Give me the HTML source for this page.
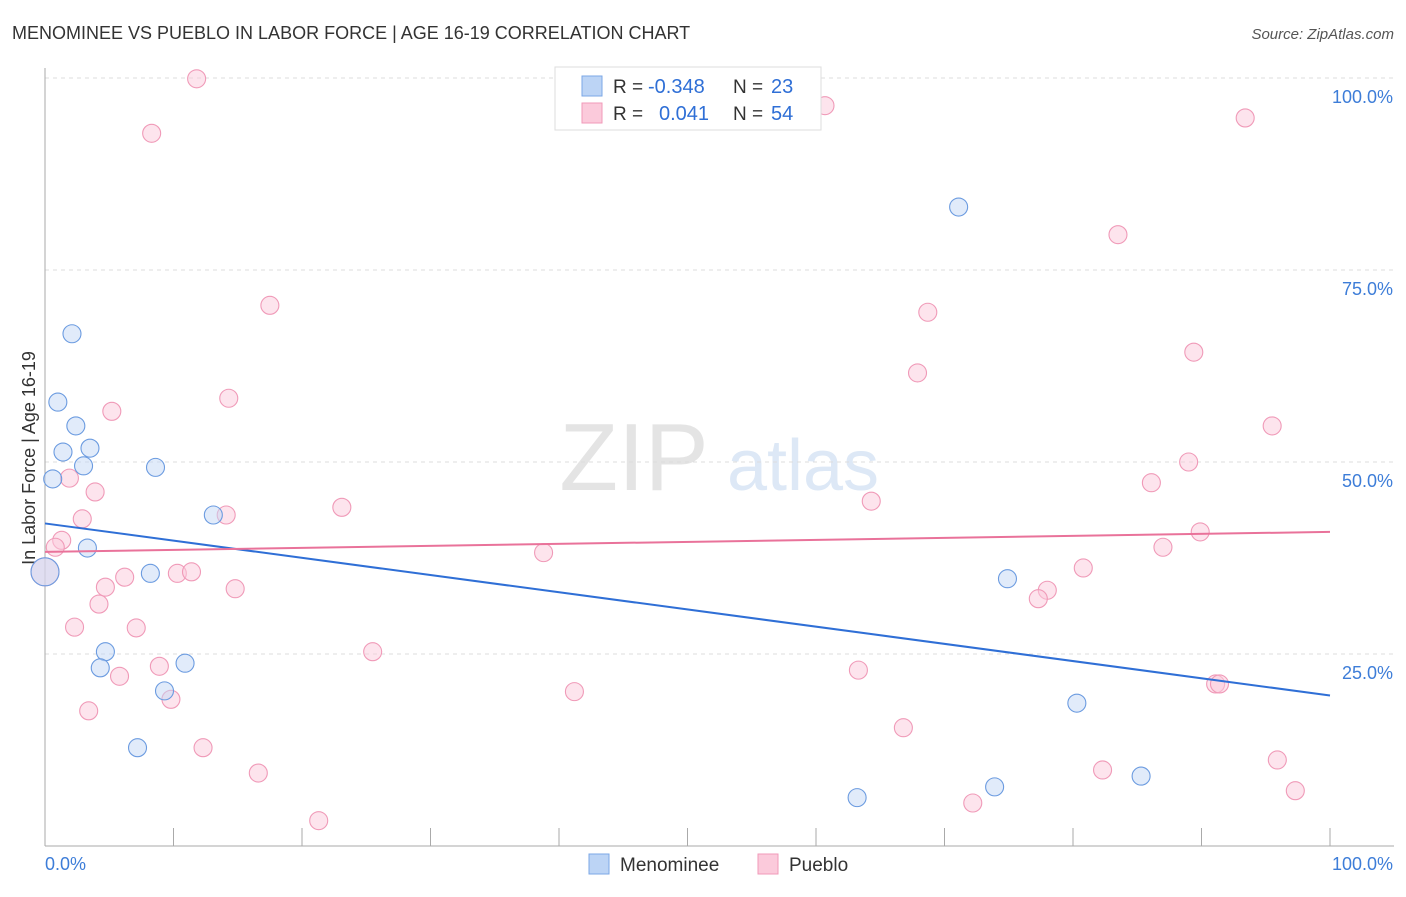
<!DOCTYPE html>
<html><head><meta charset="utf-8"><style>
body{margin:0;background:#fff;font-family:"Liberation Sans",sans-serif}
svg text{font-family:"Liberation Sans",sans-serif}
</style></head><body>
<svg id="c" width="1406" height="892">
<text x="12" y="39" font-size="18" fill="#333">MENOMINEE VS PUEBLO IN LABOR FORCE | AGE 16-19 CORRELATION CHART</text>
<text x="1394" y="39" font-size="15" fill="#555" font-style="italic" text-anchor="end">Source: ZipAtlas.com</text>
<text x="35" y="458" font-size="18" fill="#333" text-anchor="middle" transform="rotate(-90 35 458)">In Labor Force | Age 16-19</text>
<g><text x="634" y="490" font-size="96" fill="#e4e4e4" font-family="Liberation Serif" text-anchor="middle">ZIP</text><text x="803" y="490" font-size="72" fill="#dde8f6" text-anchor="middle">atlas</text></g>
<g id="grid"></g><g id="marks"></g>
<g>
<rect x="555" y="67" width="266" height="63" fill="#fff" stroke="#ddd"/>
<rect x="582" y="76" width="20" height="20" fill="#bcd4f5" stroke="#7ba7e6"/>
<rect x="582" y="103" width="20" height="20" fill="#fbcadb" stroke="#f09ab8"/>
<text x="613" y="93" font-size="19" fill="#333">R =</text>
<text x="648" y="93" font-size="20" fill="#2f6fd6">-0.348</text>
<text x="733" y="93" font-size="19" fill="#333">N =</text>
<text x="771" y="93" font-size="20" fill="#2f6fd6">23</text>
<text x="613" y="120" font-size="19" fill="#333">R =</text>
<text x="659" y="120" font-size="20" fill="#2f6fd6">0.041</text>
<text x="733" y="120" font-size="19" fill="#333">N =</text>
<text x="771" y="120" font-size="20" fill="#2f6fd6">54</text>
</g>
<g>
<rect x="589" y="854" width="20" height="20" fill="#bcd4f5" stroke="#7ba7e6"/>
<text x="620" y="871" font-size="19" fill="#333">Menominee</text>
<rect x="758" y="854" width="20" height="20" fill="#fbcadb" stroke="#f09ab8"/>
<text x="789" y="871" font-size="19" fill="#333">Pueblo</text>
</g>
</svg>
<script>
const blueX=[0,0.6,2.1,1.0,2.4,1.4,3.5,3.0,8.6,3.3,8.2,13.1,4.7,4.3,10.9,9.3,7.2,71.1,74.9,80.3,85.3,63.2,73.9];
const blueY=[35.7,47.8,66.7,57.8,54.7,51.3,51.8,49.5,49.3,38.8,35.5,43.1,25.3,23.2,23.8,20.2,12.8,83.2,34.8,18.6,9.1,6.3,7.7];
const pinkX=[11.8,8.3,60.7,93.4,83.5,17.5,68.7,67.9,89.4,14.3,5.2,95.5,1.9,89.0,3.9,86.1,64.3,23.1,2.9,14.1,1.3,0.8,89.9,87.0,38.8,6.2,10.3,11.4,4.7,14.8,80.8,78.0,77.3,4.2,2.3,7.1,25.5,8.9,63.3,5.8,9.8,41.2,91.1,91.4,3.4,66.8,12.3,95.9,82.3,16.6,72.2,97.3,21.3,0];
const pinkY=[99.9,92.8,96.4,94.8,79.6,70.4,69.5,61.6,64.3,58.3,56.6,54.7,47.9,50.0,46.1,47.3,44.9,44.1,42.6,43.1,39.8,38.9,40.9,38.9,38.2,35.0,35.5,35.7,33.7,33.5,36.2,33.3,32.2,31.5,28.5,28.4,25.3,23.4,22.9,22.1,19.1,20.1,21.1,21.1,17.6,15.4,12.8,11.2,9.9,9.5,5.6,7.2,3.3,35.7];
const blueLine=[42,19.6];const pinkLine=[38.3,40.9];
const yTicks=[25,50,75,100];const xTickCount=10;
const NS='http://www.w3.org/2000/svg';
const sx=v=>45+v*12.85, sy=v=>846-v*7.68;
function mk(t,a,p){const e=document.createElementNS(NS,t);for(const k in a)e.setAttribute(k,a[k]);p.appendChild(e);return e;}
const g=document.getElementById('grid'),m=document.getElementById('marks');
yTicks.forEach(t=>{
 const l=mk('line',{x1:45,x2:1394,y1:sy(t),y2:sy(t),stroke:'#ddd','stroke-dasharray':'4,4'},g);
 
 
 const tx=mk('text',{x:1393,y:sy(t)+25,'font-size':18,fill:'#3d7dd8','text-anchor':'end'},g);tx.textContent=t.toFixed(1)+'%';
 
 
});
mk('line',{x1:45,x2:45,y1:68,y2:846,stroke:'#aaa'},g);
const xa=mk('line',{x1:45,x2:1394,y1:846,y2:846,stroke:'#aaa'},g);


for(let i=0;i<=xTickCount;i++){mk('line',{x1:sx(i*10),x2:sx(i*10),y1:828,y2:846,stroke:'#aaa'},g);}
[['0.0%',45,'start'],['100.0%',1393,'end']].forEach(([s,x,a])=>{const t=mk('text',{x:x,y:870,'font-size':18,fill:'#3d7dd8','text-anchor':a},g);t.textContent=s;
 
 });
function pts(X,Y,f,s,name){X.forEach((x,i)=>{const big=(x===0);const c=mk('circle',{cx:sx(x),cy:sy(Y[i]),r:big?14:9,fill:f,'fill-opacity':0.5,stroke:s,'stroke-width':1.1},m);
 
 });}
pts(pinkX,pinkY,'#fbcadb','#f09ab8','pueblo');
pts(blueX,blueY,'#c3d8f5','#6b9be0','menominee');
const bl=mk('line',{x1:sx(0),y1:sy(blueLine[0]),x2:sx(100),y2:sy(blueLine[1]),stroke:'#2f6fd6','stroke-width':2},m);


const pl=mk('line',{x1:sx(0),y1:sy(pinkLine[0]),x2:sx(100),y2:sy(pinkLine[1]),stroke:'#e9729a','stroke-width':2},m);


</script>
</body></html>
